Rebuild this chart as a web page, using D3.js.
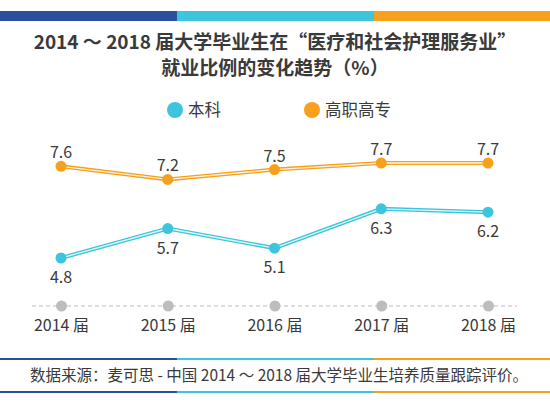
<!DOCTYPE html>
<html><head><meta charset="utf-8">
<script src="https://cdn.jsdelivr.net/npm/d3@7"></script>
<style>
html,body{margin:0;padding:0;background:#fff;}
svg{display:block;font-family:"Noto Sans CJK SC","Noto Sans",sans-serif;}
</style></head>
<body>
<svg id="c" width="550" height="405"></svg>
<script>
const years = ["2014 届","2015 届","2016 届","2017 届","2018 届"];
const seriesNames = ["本科","高职高专"];
const benke = [4.8, 5.7, 5.1, 6.3, 6.2];
const gaozhi = [7.6, 7.2, 7.5, 7.7, 7.7];
const titleLines = ["2014 ～ 2018 届大学毕业生在“医疗和社会护理服务业”","就业比例的变化趋势（%）"];
const sourceText = "数据来源：麦可思 - 中国 2014 ～ 2018 届大学毕业生培养质量跟踪评价。";

const C_BLUE = "#2b519e", C_CYAN = "#3cc5dc", C_ORANGE = "#f6a01d", C_TEXT = "#3a3a3a", C_GRAY = "#bdbdbd";

const svg = d3.select("#c");

// decorative bars
function stripe(y, h) {
  const segs = [[0,177,C_BLUE],[177,374,C_CYAN],[374,550,C_ORANGE]];
  segs.forEach(s => svg.append("rect").attr("x", s[0]).attr("y", y).attr("width", s[1]-s[0]).attr("height", h).attr("fill", s[2]));
}
stripe(11, 10);
stripe(358, 2);
stripe(391, 2);

// title
svg.selectAll("text.title").data(titleLines).join("text")
  .attr("class","title")
  .attr("x", 275).attr("y", (d,i) => 49 + i*26)
  .attr("text-anchor","middle")
  .attr("font-size", 19).attr("font-weight", 700).attr("fill", C_TEXT)
  .text(d => d);

// legend
const legend = [{name: seriesNames[0], color: C_CYAN, x: 175},{name: seriesNames[1], color: C_ORANGE, x: 312}];
legend.forEach(l => {
  svg.append("circle").attr("cx", l.x).attr("cy", 110).attr("r", 8).attr("fill", l.color);
  svg.append("text").attr("x", l.x + 13).attr("y", 116).attr("font-size", 16.5).attr("fill", C_TEXT).text(l.name);
});

// scales
const x = d3.scalePoint().domain(years).range([61, 488]);
const y = d3.scaleLinear().domain([4.8, 7.7]).range([258, 163]);

// axis
const axisY = 306;
svg.append("line").attr("x1", 32).attr("x2", 517).attr("y1", axisY).attr("y2", axisY)
  .attr("stroke", C_GRAY).attr("stroke-width", 1.2).attr("stroke-dasharray", "4,3");
const axis = d3.axisBottom(x).tickSize(0).tickPadding(14);
const ag = svg.append("g").attr("transform", `translate(0,${axisY})`).call(axis);
ag.select(".domain").remove();
ag.selectAll("text").attr("font-size", 16).attr("fill", C_TEXT).attr("font-family", '"Noto Sans CJK SC",sans-serif');
ag.selectAll(".tick").append("circle").attr("r", 5.5).attr("fill", C_GRAY);

// lines
const line = d3.line().x((d,i) => x(years[i])).y(d => y(d));
function drawSeries(vals, color, above) {
  svg.append("path").attr("d", line(vals)).attr("fill","none").attr("stroke", color).attr("stroke-width", 4);
  svg.append("path").attr("d", line(vals)).attr("fill","none").attr("stroke", "#fff").attr("stroke-width", 1.3).attr("opacity", 0.85);
  svg.selectAll(null).data(vals).join("circle")
    .attr("cx", (d,i) => x(years[i])).attr("cy", d => y(d)).attr("r", 5.5).attr("fill", color);
  svg.selectAll(null).data(vals).join("text")
    .attr("x", (d,i) => x(years[i])).attr("y", d => above ? y(d) - 8 : y(d) + 25)
    .attr("text-anchor","middle").attr("font-size", 16).attr("fill", C_TEXT)
    .text(d => d.toFixed(1));
}
drawSeries(gaozhi, C_ORANGE, true);
drawSeries(benke, C_CYAN, false);

// source
svg.append("text").attr("x", 30).attr("y", 381).attr("font-size", 15.5).attr("fill", C_TEXT).text(sourceText);
</script>
</body></html>
